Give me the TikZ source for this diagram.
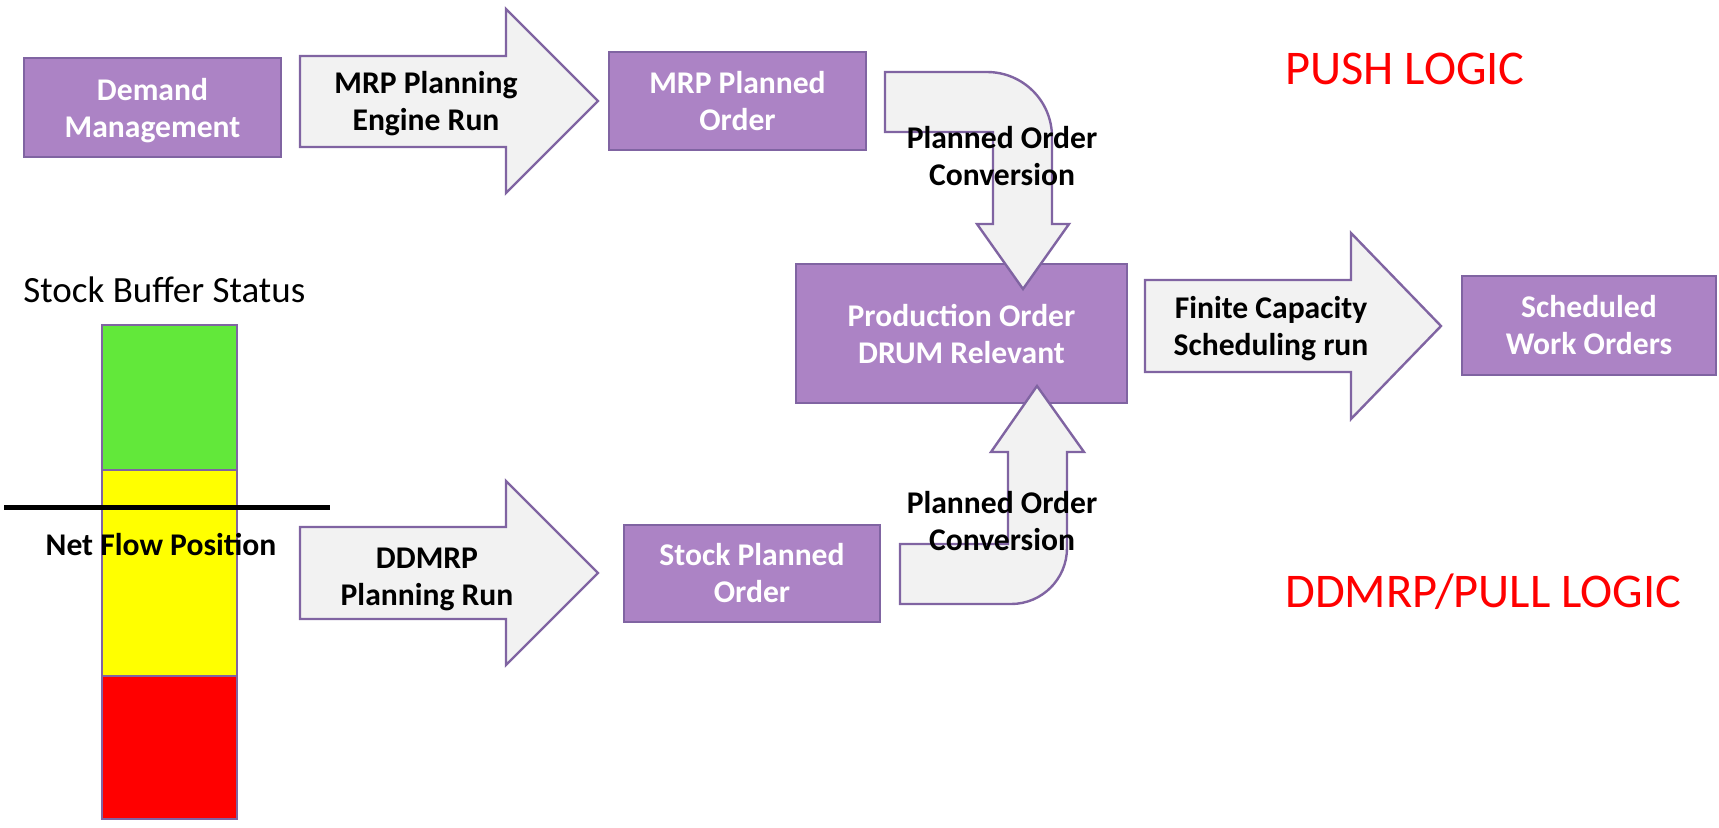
\documentclass[tikz,border=0pt]{standalone}
\usepackage{fontspec}
\setmainfont{Carlito}
\definecolor{boxfill}{RGB}{172,131,197}
\definecolor{boxline}{RGB}{128,100,162}
\definecolor{arrowfill}{RGB}{242,242,242}
\definecolor{zonegreen}{RGB}{98,232,58}
\definecolor{zoneyellow}{RGB}{255,255,0}
\definecolor{zonered}{RGB}{255,0,0}
\definecolor{logicred}{RGB}{255,0,0}
\begin{document}
\begin{tikzpicture}[x=0.5pt,y=-0.5pt,
  planbox/.style={draw=boxline, fill=boxfill, line width=1.2pt, text=white,
    font=\bfseries\fontsize{15.8}{18.5}\selectfont, align=center, inner sep=0pt},
  blockarrow/.style={draw=boxline, fill=arrowfill, line width=1.2pt, line join=miter},
  flowlabel/.style={font=\bfseries\fontsize{15.8}{18.5}\selectfont, align=center, inner sep=0pt},
  zone/.style={draw=boxline, line width=1.2pt},
  logiclabel/.style={text=logicred, font=\fontsize{24.2}{29}\selectfont, inner sep=0pt, anchor=base west}]
\useasboundingbox (0,0) rectangle (1719,827);

% process boxes
\node[planbox, minimum width=128.5pt, minimum height=49.5pt] (demand) at (152.5,107.5)
  {Demand\\\raisebox{0pt}[\height][0pt]{Management}};
\node[planbox, minimum width=128.5pt, minimum height=49pt] (mrporder) at (737.5,101) {MRP Planned\\Order};
\node[planbox, minimum width=165.5pt, minimum height=69.5pt] (prodorder) at (961.5,333.5) {Production Order\\DRUM Relevant};
\node[planbox, minimum width=127pt, minimum height=49.5pt] (scheduled) at (1589,325.5) {Scheduled\\Work Orders};
\node[planbox, minimum width=128pt, minimum height=48.5pt] (stockorder) at (752,573.5) {Stock Planned\\Order};

% straight block arrows
\draw[blockarrow] (300,56) -- (506,56) -- (506,9) -- (598,101) -- (506,193) -- (506,147) -- (300,147) -- cycle;
\draw[blockarrow] (300,527) -- (506,527) -- (506,481) -- (598,573) -- (506,665) -- (506,619) -- (300,619) -- cycle;
\draw[blockarrow] (1145,280) -- (1351,280) -- (1351,233) -- (1441,326) -- (1351,419) -- (1351,372) -- (1145,372) -- cycle;

% bent block arrows into the production order
\draw[blockarrow] (885,72) -- (987,72) .. controls (1023,72) and (1052,101) .. (1052,137)
  -- (1052,224) -- (1069,224) -- (1023,289) -- (977,224) -- (993,224) -- (993,132) -- (885,132) -- cycle;
\draw[blockarrow] (900,544) -- (1008,544) -- (1008,452) -- (991,452) -- (1037,386) -- (1084,452)
  -- (1067,452) -- (1067,548) .. controls (1067,579) and (1042,604) .. (1011,604) -- (900,604) -- cycle;

% arrow labels
\node[flowlabel] (mrprun) at (426,104) {MRP Planning\\Engine Run};
\node[flowlabel] (ddmrprun) at (427,579) {DDMRP\\Planning Run};
\node[flowlabel] (fcsrun) at (1271,329) {Finite Capacity\\Scheduling run};
\node[flowlabel] (convtop) at (1002,156) {Planned Order\\Conversion};
\node[flowlabel] (convbottom) at (1002,521) {Planned Order\\Conversion};

% stock buffer status bar
\node[font=\fontsize{18.5}{22}\selectfont, inner sep=0pt, anchor=base west] (buffertitle) at (23,302) {Stock Buffer Status};
\draw[zone, fill=zonegreen] (102,325) rectangle (237,470);
\draw[zone, fill=zoneyellow] (102,470) rectangle (237,676);
\draw[zone, fill=zonered] (102,676) rectangle (237,819);
\draw[line width=2.5pt] (4,507) -- (330,507);
\node[flowlabel, anchor=base] (netflow) at (161,555) {Net Flow Position};

% logic captions
\node[logiclabel] (pushlogic) at (1285,84) {PUSH LOGIC};
\node[logiclabel] (pulllogic) at (1285,607) {DDMRP/PULL LOGIC};
\end{tikzpicture}
\end{document}
